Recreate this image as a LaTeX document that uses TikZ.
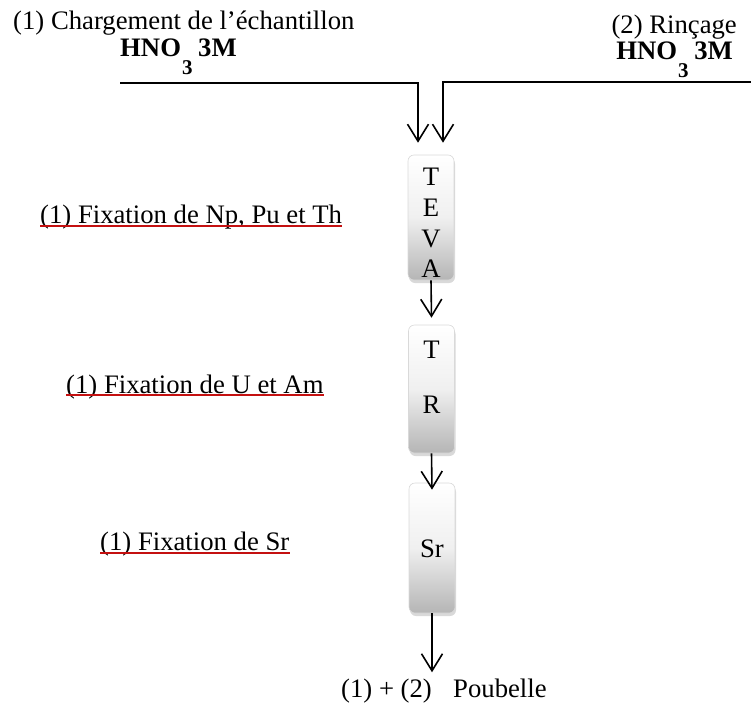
\documentclass[tikz,border=0pt]{standalone}
\usepackage{fontspec}
\setmainfont{Liberation Serif}
\usetikzlibrary{arrows.meta,shadows}
\definecolor{ulred}{RGB}{196,16,16}
\newcommand{\subthree}{\raisebox{-18pt}{\fontsize{21}{21}\selectfont 3}}
\tikzset{
  txt/.style={font=\fontsize{26.7}{32}\selectfont, inner sep=0pt, anchor=base west},
  txtr/.style={font=\fontsize{26.7}{32}\selectfont, inner sep=0pt, anchor=base east},
  letter/.style={font=\fontsize{26.7}{32}\selectfont, inner sep=0pt, anchor=base},
  colbox/.style={rounded corners=6pt, top color=white, bottom color=gray!58,
    middle color=gray!12,
    draw=gray!30, line width=0.6pt, minimum width=46pt,
    drop shadow={opacity=0.3, shadow xshift=1pt, shadow yshift=-3pt}},
  flow/.style={line width=1.6pt, -{Straight Barb[length=17pt,width=21pt,line width=1.6pt]}},
  feed/.style={line width=2.2pt},
  uline/.style={draw=ulred, line width=2pt}
}
\begin{document}
\begin{tikzpicture}[x=1pt,y=-1pt]
\useasboundingbox (0,0) rectangle (751,704);

% top texts
\node[txt] (charg) at (13,29) {(1) Chargement de l’échantillon};
\node[txt] (hnoL) at (120,56) {\bfseries HNO\kern1pt\subthree\kern-1pt{} 3M};
\node[txtr] (rinc) at (737,33) {(2) Rinçage};
\node[txtr] (hnoR) at (733,59) {\bfseries HNO\kern1pt\subthree\kern-1pt{} 3M};

% columns
\node[colbox, minimum height=125pt] (teva) at (431,217.5) {};
\node[colbox, minimum height=128pt] (tr) at (431.5,389) {};
\node[colbox, minimum height=130pt] (sr) at (432,548) {};

\node[letter] (tT) at (431,185) {T};
\node[letter] (tE) at (431,216) {E};
\node[letter] (tV) at (431,247) {V};
\node[letter] (tA) at (431,277) {A};
\node[letter] (rT) at (431.5,358) {T};
\node[letter] (rR) at (431.5,413) {R};
\node[letter] (sS) at (432,557) {Sr};

% feed lines
\coordinate (inL) at (120,83);
\coordinate (jL) at (418,83);
\coordinate (inR) at (751,82);
\coordinate (jR) at (443,82);
\draw[feed] (inL) -- ([xshift=0.8pt]jL);
\draw[feed] (inR) -- ([xshift=-0.8pt]jR);
\draw[flow] (jL) -- ([yshift=12pt]teva.north -| jL);
\draw[flow] (jR) -- ([yshift=12pt]teva.north -| jR);

% bottom text
\node[txt] (sum) at (341,697) {(1) + (2)};
\node[txt] (poub) at (453,697) {Poubelle};

% flow between columns
\draw[flow] (teva.south) -- ([yshift=7pt]tr.north);
\draw[flow] (tr.south) -- ([yshift=-7pt]sr.north);
\draw[flow] (sr.south) -- ([yshift=6pt]sr.south |- sum.north);

% left labels
\node[txt] (l1) at (40,223) {(1) Fixation de Np, Pu et Th};
\node[txt] (l2) at (66,393) {(1) Fixation de U et Am};
\node[txt] (l3) at (100,550) {(1) Fixation de Sr};
\draw[uline] ([yshift=-3pt]l1.base west) -- ([yshift=-3pt]l1.base east);
\draw[uline] ([yshift=-2pt]l2.base west) -- ([yshift=-2pt]l2.base east);
\draw[uline] ([yshift=-3pt]l3.base west) -- ([yshift=-3pt]l3.base east);
\end{tikzpicture}
\end{document}
